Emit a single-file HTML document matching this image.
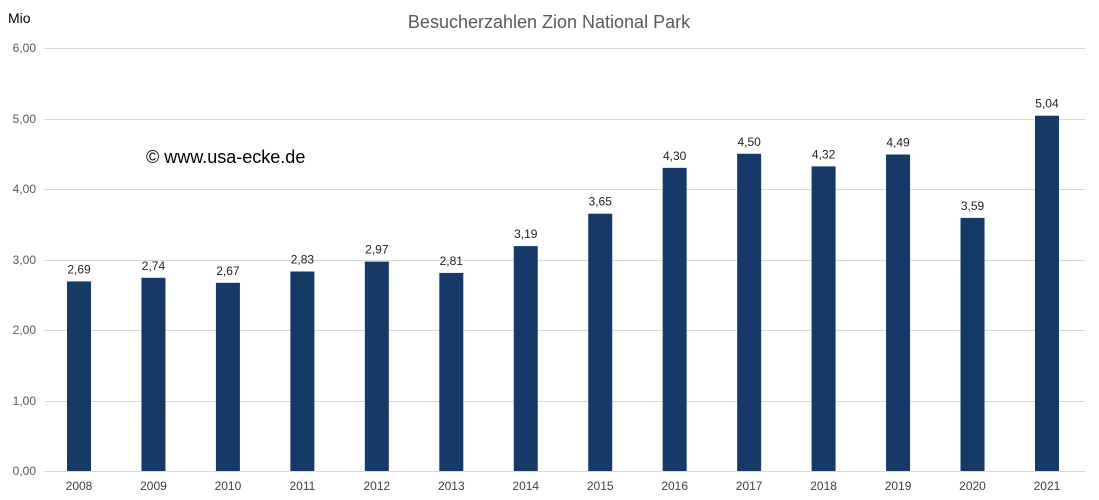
<!DOCTYPE html>
<html><head><meta charset="utf-8"><style>
body{margin:0;background:#fff;}
svg{display:block;font-family:"Liberation Sans",sans-serif;}
</style></head><body>
<svg width="1099" height="500" viewBox="0 0 1099 500">
<rect width="1099" height="500" fill="#fff"/>
<text x="549" y="28" text-anchor="middle" font-size="18" fill="#595959">Besucherzahlen Zion National Park</text>
<text x="8" y="23" font-size="14" fill="#000">Mio</text>
<g stroke="#d9d9d9" stroke-width="1">
<line x1="44" x2="1085" y1="48.5" y2="48.5"/>
<line x1="44" x2="1085" y1="119.5" y2="119.5"/>
<line x1="44" x2="1085" y1="189.5" y2="189.5"/>
<line x1="44" x2="1085" y1="260.5" y2="260.5"/>
<line x1="44" x2="1085" y1="330.5" y2="330.5"/>
<line x1="44" x2="1085" y1="401.5" y2="401.5"/>
<line x1="44" x2="1085" y1="471.5" y2="471.5"/>
</g>
<g font-size="12" fill="#595959" text-anchor="end">
<text x="36" y="52">6,00</text>
<text x="36" y="123">5,00</text>
<text x="36" y="193">4,00</text>
<text x="36" y="264">3,00</text>
<text x="36" y="334">2,00</text>
<text x="36" y="405">1,00</text>
<text x="36" y="475">0,00</text>
</g>
<text x="146" y="163" font-size="18" fill="#000">© www.usa-ecke.de</text>
<g fill="#163a68">
<rect x="67" y="281.4" width="24" height="189.6"/>
<rect x="141.46" y="277.8" width="24" height="193.2"/>
<rect x="215.92" y="282.8" width="24" height="188.2"/>
<rect x="290.38" y="271.5" width="24" height="199.5"/>
<rect x="364.84" y="261.6" width="24" height="209.4"/>
<rect x="439.3" y="272.9" width="24" height="198.1"/>
<rect x="513.76" y="246.1" width="24" height="224.9"/>
<rect x="588.22" y="213.7" width="24" height="257.3"/>
<rect x="662.68" y="167.85" width="24" height="303.15"/>
<rect x="737.14" y="153.75" width="24" height="317.25"/>
<rect x="811.6" y="166.4" width="24" height="304.6"/>
<rect x="886.06" y="154.5" width="24" height="316.5"/>
<rect x="960.52" y="217.9" width="24" height="253.1"/>
<rect x="1034.98" y="115.7" width="24" height="355.3"/>
</g>
<g font-size="12" fill="#222" text-anchor="middle">
<text x="79" y="273.4">2,69</text>
<text x="153.46" y="269.8">2,74</text>
<text x="227.92" y="274.8">2,67</text>
<text x="302.38" y="263.5">2,83</text>
<text x="376.84" y="253.6">2,97</text>
<text x="451.3" y="264.9">2,81</text>
<text x="525.76" y="238.1">3,19</text>
<text x="600.22" y="205.7">3,65</text>
<text x="674.68" y="159.85">4,30</text>
<text x="749.14" y="145.75">4,50</text>
<text x="823.6" y="158.4">4,32</text>
<text x="898.06" y="146.5">4,49</text>
<text x="972.52" y="209.9">3,59</text>
<text x="1046.98" y="107.7">5,04</text>
</g>
<g font-size="12" fill="#404040" text-anchor="middle">
<text x="79" y="490">2008</text>
<text x="153.46" y="490">2009</text>
<text x="227.92" y="490">2010</text>
<text x="302.38" y="490">2011</text>
<text x="376.84" y="490">2012</text>
<text x="451.3" y="490">2013</text>
<text x="525.76" y="490">2014</text>
<text x="600.22" y="490">2015</text>
<text x="674.68" y="490">2016</text>
<text x="749.14" y="490">2017</text>
<text x="823.6" y="490">2018</text>
<text x="898.06" y="490">2019</text>
<text x="972.52" y="490">2020</text>
<text x="1046.98" y="490">2021</text>
</g>
</svg>
</body></html>
